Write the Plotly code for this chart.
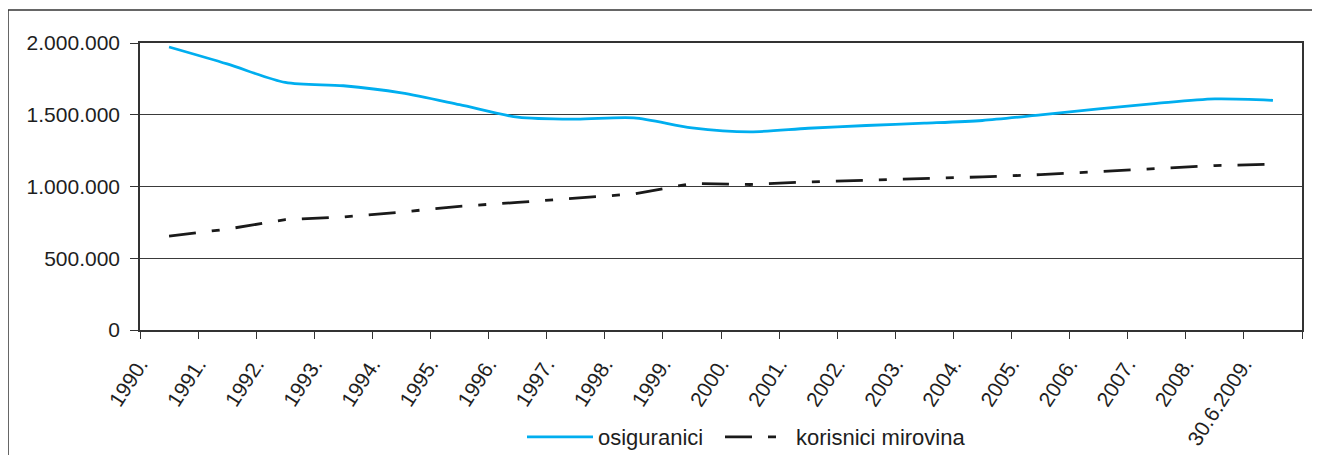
import plotly.graph_objects as go

labels = ["1990.", "1991.", "1992.", "1993.", "1994.", "1995.", "1996.", "1997.",
          "1998.", "1999.", "2000.", "2001.", "2002.", "2003.", "2004.", "2005.",
          "2006.", "2007.", "2008.", "30.6.2009."]
osiguranici = [1972000, 1854000, 1725000, 1702000, 1652000, 1570000, 1483000,
               1469000, 1478000, 1409000, 1381000, 1406000, 1425000, 1441000,
               1460000, 1499000, 1541000, 1579000, 1610000, 1600000]
korisnici = [654000, 703000, 769000, 788000, 822000, 862000, 889000, 921000,
             948000, 1021000, 1014000, 1032000, 1042000, 1057000, 1067000,
             1083000, 1104000, 1120000, 1146000, 1155000]
y_ticks = [0, 500000, 1000000, 1500000, 2000000]
y_ticktext = ["0", "500.000", "1.000.000", "1.500.000", "2.000.000"]

n = len(labels)
x_pos = [i + 0.5 for i in range(n)]

FONT = "Liberation Sans, Arial, Helvetica, sans-serif"
AX = "#333333"
TXT = "#1e1e1e"

# page body has an 8px margin; work in screen coordinates and shift
OFF = 8
W, H = 1320 - OFF, 455 - OFF
# plot area in screen px: x 140..1302, y 43..330
L = 140 - OFF
T = 43 - OFF
R = W - (1302 - OFF)
B = H - (330 - OFF)
pw, ph = W - L - R, H - T - B

def px(xs):
    return (xs - OFF - L) / pw

def py(ys):
    return (H - B - (ys - OFF)) / ph

def cx(xs):
    return (xs - OFF) / W

def cy(ys):
    return 1 - (ys - OFF) / H

fig = go.Figure()
fig.add_trace(go.Scatter(
    x=x_pos, y=osiguranici, name="osiguranici", mode="lines",
    line=dict(color="#00AEEF", width=2.8, shape="spline", smoothing=0.8),
    legend="legend",
))
fig.add_trace(go.Scatter(
    x=x_pos, y=korisnici, name="korisnici mirovina", mode="lines",
    line=dict(color="#1a1a1a", width=2.8, dash="27px,16px,8px,16px"),
    legend="legend2",
))

legend_common = dict(orientation="h", xref="container", yref="container",
                     xanchor="left", y=cy(437), yanchor="middle",
                     font=dict(size=22, color=TXT), itemwidth=66,
                     bgcolor="rgba(0,0,0,0)")

fig.update_layout(
    width=W, height=H,
    margin=dict(l=L, r=R, t=T, b=B, pad=0, autoexpand=False),
    paper_bgcolor="white", plot_bgcolor="white",
    font=dict(family=FONT, size=21, color=TXT),
    showlegend=True,
    legend=dict(x=cx(522), **legend_common),
    legend2=dict(x=cx(720), **legend_common),
    xaxis=dict(
        range=[0, n], tickmode="array",
        tickvals=list(range(n + 1)), ticktext=labels + [""],
        tickangle=-57, ticks="outside", ticklen=7, tickcolor=AX, tickwidth=1.2,
        showgrid=False, zeroline=False, automargin=False,
        showline=True, linecolor=AX, linewidth=1.5, mirror=True,
        tickfont=dict(size=21, color=TXT), ticklabelstandoff=5,
    ),
    yaxis=dict(
        range=[0, 2000000], tickmode="array", tickvals=y_ticks, ticktext=y_ticktext,
        ticks="outside", ticklen=8, tickcolor=AX, tickwidth=1.2,
        showgrid=True, gridcolor="#3a3a3a", gridwidth=1,
        zeroline=False, showline=True, linecolor=AX, linewidth=1.5, mirror=True,
        tickfont=dict(size=21, color=TXT), ticklabelstandoff=6, automargin=False,
    ),
    shapes=[
        dict(type="line", xref="paper", yref="paper", x0=px(8), x1=px(8),
             y0=py(10), y1=py(470), line=dict(color=AX, width=1.5)),
        dict(type="line", xref="paper", yref="paper", x0=px(8), x1=px(1330),
             y0=py(10), y1=py(10), line=dict(color=AX, width=1.5)),
    ],
)

fig.write_html("out.html")
